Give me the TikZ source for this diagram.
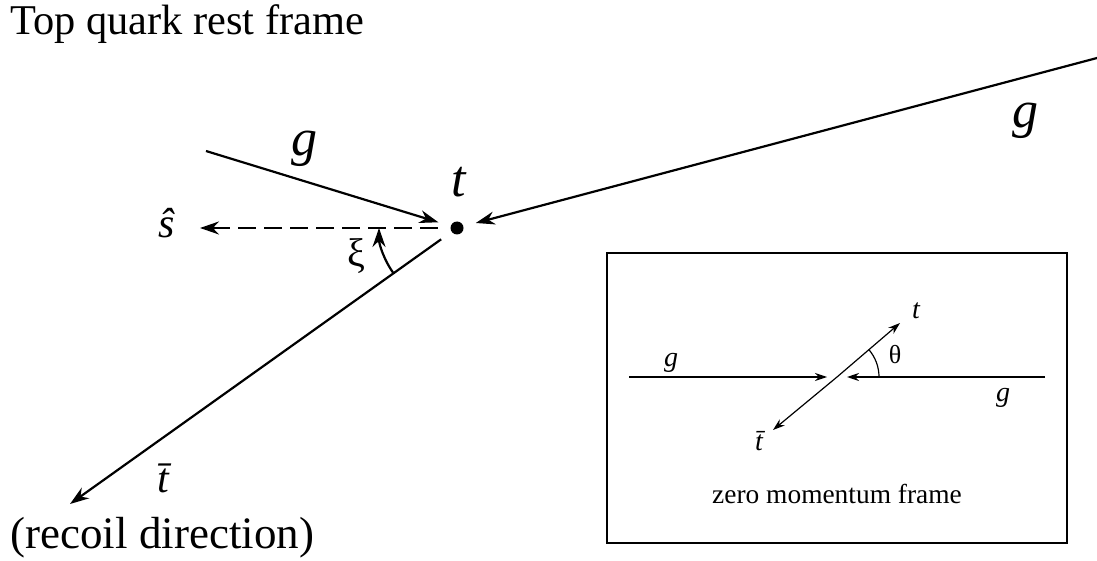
\documentclass[tikz,border=0pt]{standalone}
\usepackage{fontspec}
\setmainfont{Liberation Serif}
\usepackage{tikz}
\usetikzlibrary{arrows.meta}

\begin{document}
\begin{tikzpicture}[x=0.5pt,y=-0.5pt,every node/.style={inner sep=0pt},textlab/.style={font=\fontsize{21.2}{24}\selectfont},biglab/.style={font=\fontsize{26}{26}\selectfont\itshape},midlab/.style={font=\fontsize{21}{21}\selectfont\itshape},smalllab/.style={font=\fontsize{14}{14}\selectfont\itshape},arr/.style={line width=1.1pt,-{Stealth[length=9.5pt,width=6.5pt]}},smallarr/.style={line width=0.6pt,-{Stealth[length=6pt,width=4pt]}},topdot/.style={circle,fill,minimum size=6.5pt,outer sep=6.5pt}]
\useasboundingbox (0,0) rectangle (1097,561);
% top quark rest frame
\node[textlab,anchor=base west] (title) at (10,35) {Top quark rest frame};
\node[topdot] (top) at (457,228) {};
\node[biglab,anchor=base] (tlab) at (459,197) {t};
\coordinate (gfar) at (1097,58);
\coordinate (gnear) at (206,151);
\coordinate (stip) at (200,228);
\coordinate (tbarend) at (70,504);
\draw[arr] (gfar) -- (top);
\draw[arr] (gnear) -- (top);
\draw[arr,dash pattern=on 9pt off 4pt] (top) -- (stip);
\draw[arr] (top) -- (tbarend);
\draw[arr] ([shift={(-144.5:39pt)}]top.center) arc[start angle=-144.5,end angle=-180,radius=39pt];
\node[biglab,anchor=base] (gfarlab) at (1025,128) {g};
\node[biglab,anchor=base] (gnearlab) at (304,156) {g};
\node[midlab,anchor=base] (slab) at (167,238) {ŝ};
\node[font=\fontsize{20}{20}\selectfont,anchor=base] (xilab) at (356,266) {ξ};
\node[midlab,anchor=base] (tbarlab) at (163,492) {t̄};
\node[font=\fontsize{22.5}{24}\selectfont,anchor=base west] (recoil) at (10,548) {(recoil direction)};
% zero momentum frame
\node[draw,line width=1pt,minimum width=230pt,minimum height=145pt] (inset) at (837,398) {};
\coordinate (cz) at (837,377);
\coordinate (gl) at (629,377);
\coordinate (gr) at (1045,377);
\coordinate (tin) at (900,323);
\coordinate (tbin) at (773,430);
\draw[smallarr,shorten >=5pt] (gl) -- (cz);
\draw[smallarr,shorten >=5pt] (gr) -- (cz);
\draw[smallarr] (cz) -- (tin);
\draw[smallarr] (cz) -- (tbin);
\draw[line width=0.6pt] ([shift={(0:21pt)}]cz) arc[start angle=0,end angle=40.6,radius=21pt];
\node[smalllab,anchor=base] (glab) at (671,366) {g};
\node[smalllab,anchor=base] (grlab) at (1003,401) {g};
\node[smalllab,anchor=base] (tinlab) at (916,318) {t};
\node[font=\fontsize{13}{13}\selectfont,anchor=base] (thlab) at (895,363) {θ};
\node[smalllab,anchor=base] (tbinlab) at (759,450) {t̄};
\node[font=\fontsize{13.7}{14}\selectfont,anchor=base] (caption) at (837,503) {zero momentum frame};
\end{tikzpicture}
\end{document}
